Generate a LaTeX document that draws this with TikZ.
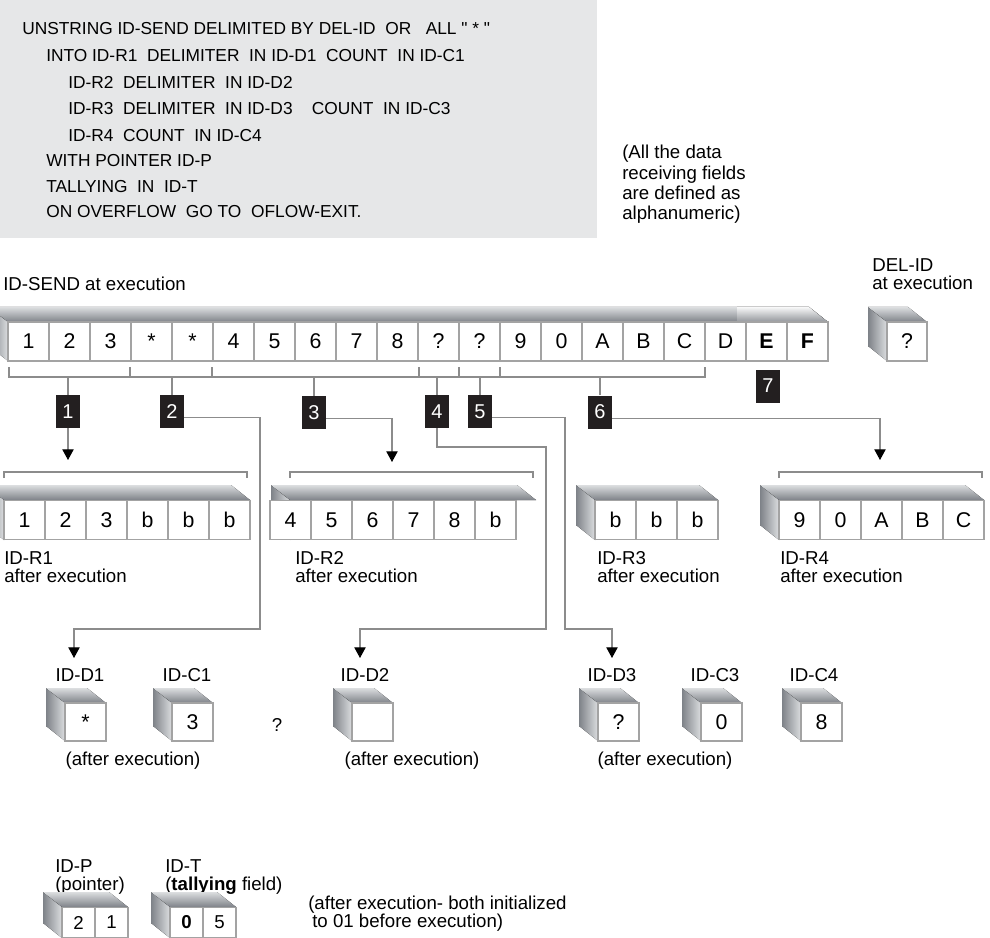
\documentclass[tikz,border=0pt]{standalone}
\usepackage{fontspec}
\setmainfont{Liberation Sans}[Ligatures=TeXOff]
\usepackage{tikz}
\usetikzlibrary{arrows.meta}
\definecolor{codeGrey}{HTML}{E6E7E8}
\definecolor{cellLine}{HTML}{A3A3A3}
\definecolor{wireGrey}{HTML}{8C8C8C}
\definecolor{faceDark}{HTML}{7E8288}
\definecolor{faceLight}{HTML}{DCDEE0}
\definecolor{markBlack}{HTML}{231F20}
\tikzset{
  codeline/.style={anchor=base west, inner sep=0pt, font=\fontsize{13}{15}\selectfont},
  fieldlabel/.style={anchor=north west, align=left, inner sep=0pt, font=\fontsize{14}{13.5}\selectfont},
  notelabel/.style={anchor=north west, align=left, inner sep=0pt, font=\fontsize{14}{15.2}\selectfont},
  cubelabel/.style={anchor=base, inner sep=0pt, font=\fontsize{14}{16}\selectfont},
  cellbox/.style={rectangle, draw=cellLine, fill=white, line width=1.1pt, minimum width=30.75pt, minimum height=29.25pt, inner sep=0pt, font=\fontsize{16}{18}\selectfont},
  cubecell/.style={cellbox, minimum height=28.5pt},
  smallcell/.style={cellbox, minimum width=24.75pt, minimum height=22.5pt, font=\fontsize{14}{16}\selectfont},
  topface/.style={top color=faceLight, bottom color=faceDark},
  sideface/.style={left color=faceDark, right color=faceLight},
  marker/.style={rectangle, fill=markBlack, text=white, minimum width=18pt, minimum height=24.75pt, inner sep=0pt, font=\fontsize{15}{17}\selectfont},
  bracket/.style={draw=wireGrey, line width=0.8pt},
  wire/.style={draw=wireGrey, line width=0.8pt},
  flowarrow/.style={wire, -{Triangle[length=8pt,width=8.5pt,color=black]}},
}
% side and top faces of a field box: left x, right x, top y, bottom y
\newcommand{\boxfaces}[4]{%
  \fill[sideface] (#1-19,#3-15) -- (#1,#3) -- (#1,#4) -- (#1-19,#4-15) -- cycle;
  \fill[topface] (#1-19,#3-15) -- (#2-19,#3-15) -- (#2,#3) -- (#1,#3) -- cycle;}

\begin{document}
\begin{tikzpicture}[x=0.75pt,y=-0.75pt]

  \useasboundingbox (0,0) rectangle (990,938);
  \clip (0,0) rectangle (990,938);

  % ---------- statement ----------
  \fill[codeGrey] (0,0) rectangle (597,238);
  \node[codeline] (code1) at (22,35)  {UNSTRING ID-SEND DELIMITED BY DEL-ID\ \ OR\ \ \ ALL " * "};
  \node[codeline] (code2) at (46,62)  {INTO ID-R1\ \ DELIMITER\ \ IN ID-D1\ \ COUNT\ \ IN ID-C1};
  \node[codeline] (code3) at (68,89)  {ID-R2\ \ DELIMITER\ \ IN ID-D2};
  \node[codeline] (code4) at (68,115) {ID-R3\ \ DELIMITER\ \ IN ID-D3\ \ \ \ COUNT\ \ IN ID-C3};
  \node[codeline] (code5) at (68,142) {ID-R4\ \ COUNT\ \ IN ID-C4};
  \node[codeline] (code6) at (46,167) {WITH POINTER ID-P};
  \node[codeline] (code7) at (46,193) {TALLYING\ \ IN\ \ ID-T};
  \node[codeline] (code8) at (46,218) {ON OVERFLOW\ \ GO TO\ \ OFLOW-EXIT.};

  \node[notelabel] (note) at (622,145) {(All the data\\receiving fields\\are defined as\\alphanumeric)};

  % ---------- sending field ----------
  \node[anchor=base west, inner sep=0pt, font=\fontsize{14}{16}\selectfont] (sendlab) at (3,291) {ID-SEND at execution};
  \boxfaces{8}{828}{322}{361}
  \fill[top color=white!80!faceLight, bottom color=faceDark!85] (737,307) -- (809,307) -- (828,322) -- (737,322) -- cycle;
  \foreach \t [count=\i] in {1,2,3,*,*,4,5,6,7,8,?,?,9,0,A,B,C,D,{\textbf{E}},{\textbf{F}}}
    \node[cellbox] (send\i) at ({41*\i-12.5},341.5) {\t};

  \node[fieldlabel] (dellab) at (872,258) {DEL-ID\\at execution};
  \boxfaces{887}{927}{322}{361}
  \node[cellbox, minimum width=30pt] (delid) at (907,341.5) {?};

  % ---------- brackets and markers ----------
  \draw[bracket] (9,367) -- (9,377) -- (705,377) -- (705,367);
  \foreach \x in {130,212,419,459,500}
    \draw[bracket] (\x,367) -- (\x,377);
  \coordinate (sendbr) at (0,377);

  \node[marker] (m1) at (68,411.5)  {1};
  \node[marker] (m2) at (172,411.5) {2};
  \node[marker] (m3) at (314,412.5) {3};
  \node[marker] (m4) at (437,411.5) {4};
  \node[marker] (m5) at (480,411.5) {5};
  \node[marker] (m6) at (600,412)   {6};
  \node[marker] (m7) at (768,386)   {7};

  \foreach \m in {m1,m2,m3,m4,m5,m6}
    \draw[wire] (\m.north) -- (\m.north |- sendbr);

  % ---------- receiving fields ----------
  \draw[bracket] (4,478) |- (247,472) -- (247,478);
  \boxfaces{4}{250}{500}{540}
  \foreach \t [count=\i] in {1,2,3,b,b,b}
    \node[cellbox] (ra\i) at ({41*\i-16.5},520) {\t};
  \node[fieldlabel] (r1lab) at (4,551) {ID-R1\\after execution};

  \draw[bracket] (290,478) |- (533,472) -- (533,478);
  \boxfaces{290}{536}{500}{540}
  \foreach \t [count=\i] in {4,5,6,7,8,b}
    \node[cellbox] (rb\i) at ({41*\i+249.5},520) {\t};
  \node[fieldlabel] (r2lab) at (295,551) {ID-R2\\after execution};

  \boxfaces{595}{718}{500}{540}
  \foreach \t [count=\i] in {b,b,b}
    \node[cellbox] (rc\i) at ({41*\i+574.5},520) {\t};
  \node[fieldlabel] (r3lab) at (597,551) {ID-R3\\after execution};

  \draw[bracket] (779,478) |- (982,472) -- (982,478);
  \boxfaces{779}{984}{500}{540}
  \foreach \t [count=\i] in {9,0,A,B,C}
    \node[cellbox] (rd\i) at ({41*\i+758.5},520) {\t};
  \node[fieldlabel] (r4lab) at (780,551) {ID-R4\\after execution};

  % ---------- delimiter and count fields ----------
  \node[cubelabel] (d1lab) at (80,681) {ID-D1};
  \boxfaces{65}{106}{703}{741}
  \node[cubecell] (d1) at (85.5,722) {*};
  \node[cubelabel] (c1lab) at (187,681) {ID-C1};
  \boxfaces{172}{213}{703}{741}
  \node[cubecell] (c1) at (192.5,722) {3};
  \node[cubelabel] (unk) at (277,731) {?};
  \node[cubelabel] (d2lab) at (365,681) {ID-D2};
  \boxfaces{352}{393}{703}{741}
  \node[cubecell] (d2) at (372.5,722) {};
  \node[cubelabel] (d3lab) at (612,681) {ID-D3};
  \boxfaces{598}{639}{703}{741}
  \node[cubecell] (d3) at (618.5,722) {?};
  \node[cubelabel] (c3lab) at (715,681) {ID-C3};
  \boxfaces{701}{742}{703}{741}
  \node[cubecell] (c3) at (721.5,722) {0};
  \node[cubelabel] (c4lab) at (814,681) {ID-C4};
  \boxfaces{801}{842}{703}{741}
  \node[cubecell] (c4) at (821.5,722) {8};

  \node[cubelabel] (after1) at (133,765) {(after execution)};
  \node[cubelabel] (after2) at (412,765) {(after execution)};
  \node[cubelabel] (after3) at (665,765) {(after execution)};

  % ---------- pointer and tallying ----------
  \node[fieldlabel] (plab) at (55,859) {ID-P\\(pointer)};
  \boxfaces{62}{128}{907}{938}
  \node[smallcell] (p1) at (78.5,922.5)  {2};
  \node[smallcell] (p2) at (111.5,922.5) {1};
  \node[fieldlabel] (tlab) at (165,859) {ID-T\\(\textbf{tallying} field)};
  \boxfaces{170}{236}{907}{938}
  \node[smallcell] (t1) at (186.5,922.5) {\textbf{0}};
  \node[smallcell] (t2) at (219.5,922.5) {5};
  \node[fieldlabel] (afterpt) at (308,896) {(after execution- both initialized\\\hspace*{3pt}to 01 before execution)};

  % ---------- flow ----------
  \coordinate (r1in) at (68,460);
  \coordinate (r2in) at (392,462);
  \coordinate (r4in) at (880,460);
  \coordinate (d1in) at (74,658);
  \coordinate (d2in) at (360,658);
  \coordinate (d3in) at (612,658);
  \coordinate (j2)   at (260,629);
  \coordinate (j4a)  at (546,447);
  \coordinate (j4b)  at (546,629);
  \coordinate (j5)   at (565,629);

  \draw[flowarrow] (m1.south) -- (r1in);
  \draw[flowarrow] ([yshift=-4.5pt]m2.east) -| (j2) -| (d1in);
  \draw[flowarrow] ([yshift=-4.5pt]m3.east) -| (r2in);
  \draw[flowarrow] (m4.south) |- (j4a) -- (j4b) -| (d2in);
  \draw[flowarrow] ([yshift=-4.5pt]m5.east) -| (j5) -| (d3in);
  \draw[flowarrow] ([yshift=-5pt]m6.east) -| (r4in);

\end{tikzpicture}
\end{document}
